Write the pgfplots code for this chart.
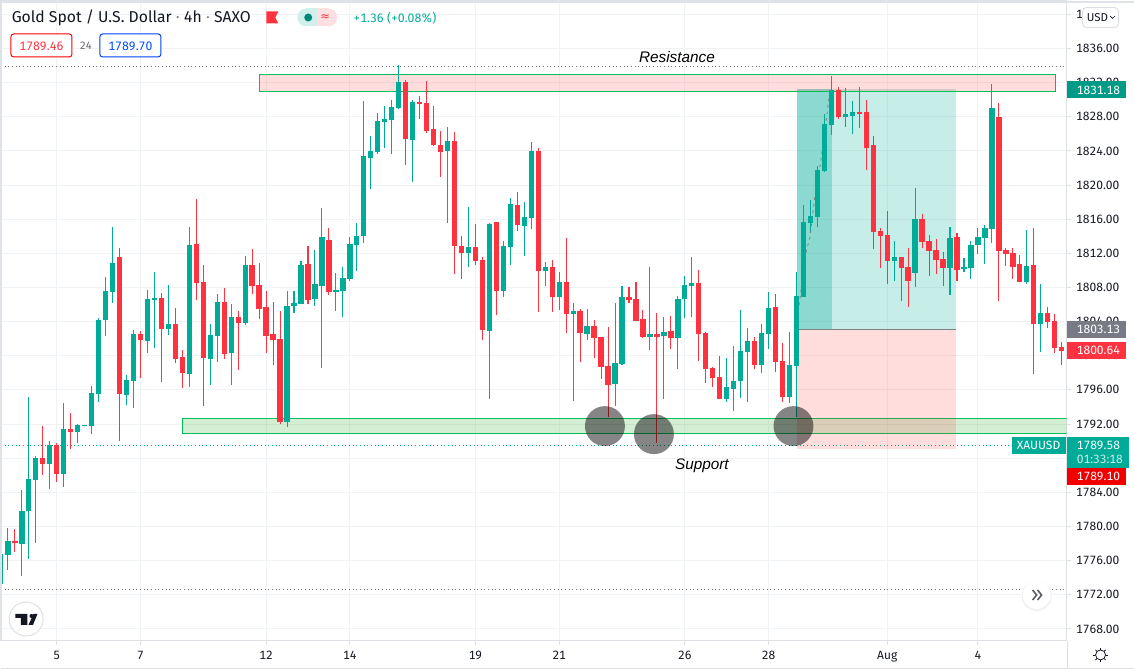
\documentclass[border=0pt]{standalone}
\usepackage{pgfplots}
\usepackage{pgfplotstable}
\usepackage{fontspec}
\pgfplotsset{compat=1.18}
\setmainfont[Numbers={Monospaced,Lining}]{Fira Sans}
\newfontfamily\arialf{Liberation Sans}
\newfontfamily\djv{DejaVu Sans}
\definecolor{cup}{HTML}{00AB98}
\definecolor{cdn}{HTML}{FF333F}
\definecolor{gridc}{HTML}{F0F3F6}
\definecolor{axisc}{HTML}{DDE0E5}
\definecolor{bandc}{HTML}{E0E3EB}
\definecolor{boxg}{HTML}{00C05A}
\definecolor{txt}{HTML}{131722}
\pgfplotstableread{
x o h l c
0.25 1775 1776.79 1773.28 1775
1 1776.67 1779.83 1774.92 1778.31
3 1777.96 1784.28 1774.22 1781.82
4 1781.82 1795.16 1776.21 1785.57
5 1785.45 1788.26 1778.08 1788.02
7 1787.32 1790.01 1784.40 1789.55
9 1786.15 1794.46 1784.63 1791.42
11 1791.07 1792.00 1789.78 1791.88
12 1791.77 1791.88 1791.77 1791.88
13 1791.77 1796.45 1790.83 1795.63
14 1795.51 1804.40 1794.58 1804.17
15 1804.17 1809.20 1802.30 1807.56
16 1807.45 1815.05 1806.16 1810.84
18 1795.39 1797.73 1794.22 1797.15
19 1797.03 1803.00 1793.87 1802.53
21 1801.71 1807.68 1800.31 1806.63
22 1806.51 1809.79 1800.89 1806.74
24 1803.12 1808.26 1802.41 1803.70
27 1797.85 1815.05 1796.33 1812.94
30 1799.61 1803.70 1796.56 1802.41
31 1802.30 1807.21 1799.26 1806.28
33 1800.31 1806.04 1796.56 1804.52
35 1803.82 1811.66 1803.58 1810.60
41 1792.24 1807.56 1791.65 1805.81
42 1805.82 1807.57 1805.00 1806.17
43 1806.05 1811.08 1806.05 1810.61
45 1806.64 1812.37 1805.82 1808.39
46 1808.16 1817.28 1798.56 1813.89
48 1807.46 1809.68 1805.23 1807.69
49 1807.57 1810.38 1804.53 1809.09
50 1808.98 1813.89 1808.74 1813.07
51 1812.95 1815.53 1809.91 1814.01
52 1814.01 1829.80 1813.19 1823.37
53 1823.13 1825.71 1819.51 1823.95
54 1823.84 1828.40 1823.60 1827.46
55 1827.35 1829.22 1824.30 1827.70
56 1827.58 1829.92 1823.60 1829.10
57 1828.98 1834.01 1828.87 1832.03
59 1825.24 1829.92 1820.33 1829.69
64 1823.95 1826.76 1815.53 1825.12
67 1812.02 1817.40 1810.38 1812.72
70 1802.89 1815.53 1794.94 1815.41
72 1807.57 1813.42 1806.87 1812.84
73 1812.72 1818.45 1810.61 1817.75
75 1815.18 1817.99 1811.67 1816.23
76 1816.11 1825.01 1814.83 1823.95
78 1809.91 1810.97 1808.16 1810.38
80 1806.87 1809.80 1805.35 1808.63
82 1804.88 1806.17 1794.70 1805.23
84 1802.53 1805.46 1801.83 1803.47
88 1796.68 1806.16 1794.11 1799.14
89 1799.02 1808.15 1798.90 1806.86
93 1802.18 1810.37 1800.66 1802.53
95 1802.30 1804.52 1794.93 1802.77
97 1802.06 1806.98 1798.44 1806.63
98 1806.63 1809.32 1804.40 1808.26
99 1808.15 1811.54 1804.52 1808.50
104 1794.93 1799.72 1794.58 1796.33
105 1796.10 1801.13 1793.52 1797.03
106 1797.03 1805.34 1795.04 1800.54
107 1800.43 1803.23 1794.58 1801.71
109 1798.90 1803.70 1797.97 1802.65
110 1802.53 1807.45 1800.78 1805.57
113 1795.16 1802.77 1794.46 1798.90
114 1798.79 1809.79 1792.86 1806.98
115 1806.87 1817.63 1806.87 1815.65
116 1815.53 1818.22 1814.59 1816.35
117 1816.23 1822.20 1815.06 1821.73
118 1821.61 1828.28 1821.50 1827.11
119 1826.99 1832.73 1825.82 1831.09
121 1827.93 1831.32 1826.76 1828.28
122 1828.05 1829.80 1825.94 1828.52
128 1811.08 1813.42 1808.74 1811.55
131 1809.68 1819.62 1808.04 1816.00
136 1810.26 1815.06 1807.10 1813.77
138 1810.15 1811.43 1809.80 1810.38
139 1810.26 1813.42 1808.98 1812.95
140 1812.95 1814.94 1811.90 1813.89
141 1813.77 1815.29 1810.73 1814.94
142 1814.83 1831.79 1813.19 1828.98
147 1808.63 1814.71 1808.39 1810.50
149 1803.71 1808.39 1800.44 1805.00
}\upcandles
\pgfplotstableread{
x o h l c
2 1778.31 1779.72 1777.03 1778.12
6 1788.02 1791.77 1786.03 1787.32
8 1789.55 1789.78 1785.22 1786.15
10 1791.42 1793.29 1789.08 1791.07
17 1811.54 1812.59 1790.01 1795.51
20 1802.53 1802.88 1797.38 1801.83
23 1806.74 1807.33 1796.92 1803.12
25 1803.70 1805.57 1799.14 1799.61
26 1799.84 1800.66 1796.21 1797.97
28 1813.06 1818.33 1806.51 1808.50
29 1808.62 1810.60 1794.11 1799.72
32 1806.28 1807.91 1799.61 1800.19
34 1804.52 1805.22 1798.32 1803.82
36 1810.60 1812.48 1807.21 1808.15
37 1808.26 1810.84 1804.29 1805.46
38 1805.69 1807.56 1800.31 1802.30
39 1802.53 1806.28 1798.90 1801.83
40 1801.95 1805.22 1792.00 1792.24
44 1810.73 1812.84 1806.05 1806.52
47 1813.54 1814.94 1807.10 1807.46
58 1832.03 1832.26 1822.31 1825.36
60 1829.69 1830.39 1827.70 1829.45
61 1829.57 1832.14 1826.06 1826.29
62 1826.53 1829.22 1824.54 1824.65
63 1824.65 1826.29 1820.91 1823.84
65 1825.12 1826.18 1809.56 1812.84
66 1812.84 1814.01 1808.98 1812.02
68 1812.72 1815.41 1810.61 1811.08
69 1811.20 1811.55 1801.84 1803.01
71 1815.65 1815.65 1804.77 1807.57
74 1817.63 1819.16 1814.59 1815.29
77 1823.95 1824.30 1805.12 1809.91
79 1810.38 1811.20 1805.12 1806.87
81 1808.63 1813.77 1802.66 1804.88
83 1805.22 1805.53 1799.26 1802.65
85 1803.47 1804.17 1799.72 1802.06
86 1802.18 1802.18 1797.27 1798.67
87 1798.79 1803.35 1792.86 1796.56
90 1806.86 1808.03 1806.16 1806.51
91 1806.63 1808.62 1804.05 1804.05
92 1804.29 1805.34 1802.06 1802.18
94 1802.53 1804.99 1789.82 1802.18
96 1802.88 1804.64 1800.78 1802.06
100 1808.50 1810.02 1799.37 1802.53
101 1802.65 1802.77 1796.80 1798.44
102 1798.55 1798.67 1796.33 1797.38
103 1797.50 1799.96 1794.93 1794.93
108 1801.71 1802.18 1798.44 1798.90
111 1805.69 1807.21 1798.09 1799.26
112 1799.37 1801.48 1794.58 1795.16
120 1831.09 1831.44 1827.70 1827.93
123 1828.52 1831.44 1826.64 1828.28
124 1828.52 1829.92 1821.73 1824.30
125 1824.65 1825.71 1812.49 1814.48
126 1814.59 1814.94 1810.26 1814.01
127 1814.12 1816.93 1808.39 1811.08
129 1811.55 1811.55 1806.40 1810.26
130 1810.38 1812.60 1805.70 1808.74
132 1816.00 1816.58 1812.60 1813.31
133 1813.42 1814.12 1809.33 1812.25
134 1812.37 1813.66 1809.56 1811.20
135 1811.32 1812.14 1808.16 1810.26
137 1813.89 1814.36 1808.74 1810.03
143 1827.93 1829.57 1806.40 1812.25
144 1812.37 1812.60 1810.50 1811.90
145 1812.02 1812.60 1808.98 1810.38
146 1810.73 1811.78 1808.63 1808.63
148 1810.61 1814.94 1797.86 1803.71
150 1805.00 1805.70 1803.24 1803.95
151 1804.06 1804.88 1800.32 1800.90
152 1801.02 1801.61 1798.91 1800.55
}\downcandles
\begin{document}
\begin{tikzpicture}
\path (0,0) rectangle (850.5pt,504pt);
\begin{axis}[
  at={(0pt,23.25pt)}, anchor=south west,
  scale only axis, width=800.25pt, height=480.75pt,
  xmin=-0.06, xmax=152.7, ymin=1766.59, ymax=1841.62,
  xtick={8,20,38,50,68,80,98,110,127,140},
  xticklabels={5,7,12,14,19,21,26,28,Aug,4},
  ytick={1768,1772,1776,1780,1784,1788,1792,1796,1800,1804,1808,1812,1816,1820,1824,1828,1832,1836,1840},
  xtick pos=bottom, ytick pos=right, tick align=outside,
  major tick length=3pt, major tick style={color=axisc, line width=.75pt},
  grid=major, major grid style={color=gridc, line width=.75pt},
  axis line style={color=axisc, line width=.75pt},
  tick label style={font=\fontsize{9pt}{11pt}\selectfont, color=txt},
  yticklabel style={anchor=west, inner sep=0pt, xshift=4pt},
  xticklabel style={inner sep=0pt, yshift=-4.5pt},
  /pgf/number format/assume math mode=true,
  /pgf/number format/fixed, /pgf/number format/fixed zerofill,
  /pgf/number format/precision=2, /pgf/number format/1000 sep={},
]
% level lines
\draw[gray!90!black, line width=.75pt, dotted] (axis cs:0,1833.89) -- (axis cs:152.5,1833.89);
\draw[gray!90!black, line width=.75pt, dotted] (axis cs:0,1772.56) -- (axis cs:152.5,1772.56);
\draw[cup, line width=.75pt, dotted] (axis cs:0,1789.53) -- (axis cs:144.8,1789.53);
% zones
\fill[green!60!black, opacity=.17] (axis cs:26.07,1792.64) rectangle (axis cs:152.7,1790.88);
\draw[boxg, line width=.75pt] (axis cs:152.7,1792.64) -- (axis cs:26.07,1792.64) -- (axis cs:26.07,1790.88) -- (axis cs:152.7,1790.88);
\fill[cup, opacity=.22] (axis cs:114.1,1831.2) rectangle (axis cs:136.9,1803.13);
\fill[cup, opacity=.30] (axis cs:114.1,1831.2) rectangle (axis cs:119.05,1803.13);
\fill[red!80!white, opacity=.17] (axis cs:114.1,1803.13) rectangle (axis cs:136.9,1789.1);
\draw[gray, line width=.75pt] (axis cs:114.1,1803.13) -- (axis cs:136.9,1803.13);
\fill[red!80!white, opacity=.17] (axis cs:37.09,1832.96) rectangle (axis cs:151.12,1830.97);
\draw[boxg, line width=.75pt] (axis cs:37.09,1832.96) rectangle (axis cs:151.12,1830.97);
\draw[gray, line width=.6pt, dash pattern=on 2pt off 3pt] (axis cs:114.37,1805.92) -- (axis cs:115.43,1812.36) -- (axis cs:115.9,1813.76) -- (axis cs:116.62,1818.56) -- (axis cs:117.44,1822.54) -- (axis cs:118.3,1827.81) -- (axis cs:118.77,1830.97);
% up candles
\addplot[draw=none, mark=none, error bars/.cd, y dir=plus, y explicit, error mark=none, error bar style={color=cup, line width=.8pt}]
  table[x=x, y=l, y error plus expr=\thisrow{h}-\thisrow{l}] {\upcandles};
\addplot[draw=none, mark=none, error bars/.cd, y dir=plus, y explicit, error mark=none, error bar style={color=cup, line width=4pt}]
  table[x=x, y=o, y error plus expr=\thisrow{c}-\thisrow{o}] {\upcandles};
% down candles
\addplot[draw=none, mark=none, error bars/.cd, y dir=plus, y explicit, error mark=none, error bar style={color=cdn, line width=.8pt}]
  table[x=x, y=l, y error plus expr=\thisrow{h}-\thisrow{l}] {\downcandles};
\addplot[draw=none, mark=none, error bars/.cd, y dir=plus, y explicit, error mark=none, error bar style={color=cdn, line width=4pt}]
  table[x=x, y=c, y error plus expr=\thisrow{o}-\thisrow{c}] {\downcandles};
% circles
\fill[black, opacity=.48] (axis cs:86.55,1791.76) circle[radius=15pt];
\fill[black, opacity=.48] (axis cs:93.57,1790.82) circle[radius=15pt];
\fill[black, opacity=.48] (axis cs:113.57,1791.76) circle[radius=15pt];
\end{axis}
\begin{scope}[x=0.75pt,y=-0.75pt,yshift=504pt]
% frame bands
\fill[bandc] (0,0) rectangle (1134,2);
\fill[bandc] (0,0) rectangle (2,641);
\draw[axisc, line width=.75pt] (1067.5,641) -- (1067.5,669);
\draw[axisc, line width=.75pt] (0,669) -- (1134,669);
% annotations
\node[font=\arialf\itshape\fontsize{11.5pt}{13pt}\selectfont, color=black, inner sep=0pt] at (677,57) {Resistance};
\node[font=\arialf\itshape\fontsize{11.5pt}{13pt}\selectfont, color=black, inner sep=0pt] at (702,465.5) {Support};
% header
\node[anchor=west, inner sep=0pt, color=txt, font=\fontsize{11.8pt}{13pt}\selectfont] at (11,17.5) {Gold Spot / U.S. Dollar {\color{gray}\textperiodcentered} 4h {\color{gray}\textperiodcentered} SAXO};
\fill[cdn] (266,11) -- (278,11) -- (275,17) -- (278,23) -- (266,23) -- cycle;
\fill[cup!18] (306,17) circle[radius=9];
\fill[cup!18] (306,8) rectangle (317,26);
\fill[cdn!15] (328,17) circle[radius=9];
\fill[cdn!15] (317,8) rectangle (328,26);
\fill[cup!80!black] (308,17) circle[radius=4];
\node[inner sep=0pt, color=cdn, font=\djv\fontsize{9pt}{10pt}\selectfont] at (325,17) {≈};
\node[anchor=west, inner sep=0pt, color=cup, font=\fontsize{9.2pt}{11pt}\selectfont] at (353,18) {+1.36 (+0.08\%)};
\draw[red, line width=.75pt, fill=white, rounded corners=2pt] (10.5,33.5) rectangle (71.5,56.5);
\node[inner sep=0pt, color=cdn, font=\fontsize{9.2pt}{11pt}\selectfont] at (41,46) {1789.46};
\node[inner sep=0pt, color=txt!65, font=\fontsize{8pt}{10pt}\selectfont] at (85.5,45.5) {24};
\draw[blue!75!cyan, line width=.75pt, fill=white, rounded corners=2pt] (99.5,33.5) rectangle (160.5,56.5);
\node[inner sep=0pt, color=blue!70!cyan, font=\fontsize{9.2pt}{11pt}\selectfont] at (130,46) {1789.70};
% right tags
\fill[fill={rgb,255:red,0;green,155;blue,135}] (1067,81) rectangle (1126,98);
\node[anchor=west, inner sep=0pt, color=white, font=\fontsize{9pt}{11pt}\selectfont] at (1077,89.5) {1831.18};
\fill[fill={rgb,255:red,120;green,123;blue,134}] (1067,321) rectangle (1126,338);
\node[anchor=west, inner sep=0pt, color=white, font=\fontsize{9pt}{11pt}\selectfont] at (1077,329.5) {1803.13};
\fill[cdn] (1067,342) rectangle (1126,359);
\node[anchor=west, inner sep=0pt, color=white, font=\fontsize{9pt}{11pt}\selectfont] at (1077,350.5) {1800.64};
\fill[cup] (1012,437) rectangle (1066,454);
\node[inner sep=0pt, color=white, font=\fontsize{9pt}{11pt}\selectfont] at (1039,445.5) {XAUUSD};
\fill[cup] (1067,437) rectangle (1129,468);
\node[anchor=west, inner sep=0pt, color=white, font=\fontsize{9pt}{11pt}\selectfont] at (1077,445.5) {1789.58};
\node[anchor=west, inner sep=0pt, color=white!80!cup, font=\fontsize{9pt}{11pt}\selectfont] at (1077,459.5) {01:33:18};
\fill[red!95!black] (1067,468) rectangle (1126,485);
\node[anchor=west, inner sep=0pt, color=white, font=\fontsize{9pt}{11pt}\selectfont] at (1077,476.5) {1789.10};
% USD box
\draw[axisc, line width=.75pt, fill=white, rounded corners=3pt] (1083,7) rectangle (1119,27);
\node[anchor=west, inner sep=0pt, color=txt, font=\fontsize{8.6pt}{10pt}\selectfont] at (1087,17) {USD};
\draw[txt, line width=.5pt] (1110.5,15.5) -- (1113,18) -- (1115.5,15.5);
% scroll button
\fill[black!6] (1037,596) circle[radius=15];
\fill[white] (1037,595) circle[radius=14];
\draw[txt!70, line width=1.2pt] (1033,590) -- (1037,595) -- (1033,600);
\draw[txt!70, line width=1.2pt] (1038,590) -- (1042,595) -- (1038,600);
% logo
\draw[axisc, line width=.75pt, fill=white] (25.7,619) circle[radius=17];
\fill[txt] (15,614) -- (27,614) -- (27,625) -- (20.5,625) -- (20.5,618) -- (15,618) -- cycle;
\fill[txt] (31,616) circle[radius=2];
\fill[txt] (37,614) -- (32.5,625) -- (28,625) -- (33,614) -- cycle;
% sun
\draw[txt, line width=.6pt] (1101,655) circle[radius=5];
\foreach \a in {0,45,...,315}{\draw[txt, line width=.6pt] (1101,655) ++(\a:5.2) -- ++(\a:2);}
\end{scope}
\end{tikzpicture}
\end{document}
